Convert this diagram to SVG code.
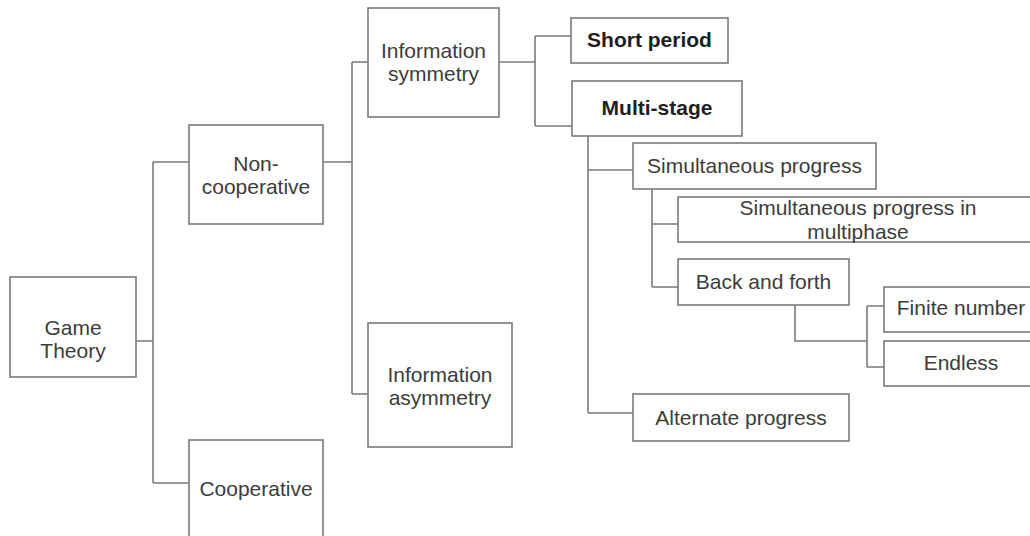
<svg xmlns="http://www.w3.org/2000/svg" width="1030" height="536" viewBox="0 0 1030 536">
  <style>
    .box { fill: #ffffff; stroke: #7a7a7a; stroke-width: 1.6; }
    .wire { fill: none; stroke: #7a7a7a; stroke-width: 1.6; }
    .lbl { font-family: "Liberation Sans", Arial, sans-serif; font-size: 21px; fill: #3c3c3c; text-anchor: middle; }
    .bold { font-weight: bold; fill: #1e1e1e; }
  </style>
  <rect width="1030" height="536" fill="#ffffff"/>

  <!-- tree connectors -->
  <g id="connectors">
    <path class="wire" d="M136,341 H153 M153,162 V483 M153,162 H189 M153,483 H189"/>
    <path class="wire" d="M323,162 H352 M352,62 V394 M352,62 H368 M352,394 H368"/>
    <path class="wire" d="M499,62 H535 M535,36 V126 M535,36 H571 M535,126 H572"/>
    <path class="wire" d="M588,136 V413 M588,170 H633 M588,413 H633"/>
    <path class="wire" d="M652,189 V287 M652,224 H678 M652,287 H678"/>
    <path class="wire" d="M795,305 V341 H867 M867,306 V367 M867,306 H884 M867,367 H884"/>
  </g>

  <g id="game-theory">
    <rect class="box" x="10" y="277" width="126" height="100"/>
    <text class="lbl" x="73" y="335">Game</text>
    <text class="lbl" x="73" y="358">Theory</text>
  </g>

  <g id="non-cooperative">
    <rect class="box" x="189" y="125" width="134" height="99"/>
    <text class="lbl" x="256" y="171">Non-</text>
    <text class="lbl" x="256" y="194">cooperative</text>
  </g>

  <g id="cooperative">
    <rect class="box" x="189" y="440" width="134" height="104"/>
    <text class="lbl" x="256" y="496">Cooperative</text>
  </g>

  <g id="information-symmetry">
    <rect class="box" x="368" y="8" width="131" height="109"/>
    <text class="lbl" x="433.5" y="58">Information</text>
    <text class="lbl" x="433.5" y="81">symmetry</text>
  </g>

  <g id="information-asymmetry">
    <rect class="box" x="368" y="323" width="144" height="124"/>
    <text class="lbl" x="440" y="382">Information</text>
    <text class="lbl" x="440" y="405">asymmetry</text>
  </g>

  <g id="short-period">
    <rect class="box" x="571" y="18" width="157" height="45"/>
    <text class="lbl bold" x="649.5" y="47">Short period</text>
  </g>

  <g id="multi-stage">
    <rect class="box" x="572" y="81" width="170" height="55"/>
    <text class="lbl bold" x="657" y="115">Multi-stage</text>
  </g>

  <g id="simultaneous-progress">
    <rect class="box" x="633" y="143" width="243" height="46"/>
    <text class="lbl" x="754.5" y="173">Simultaneous progress</text>
  </g>

  <g id="simultaneous-multiphase">
    <rect class="box" x="678" y="197" width="360" height="45"/>
    <text class="lbl" x="858" y="215">Simultaneous progress in</text>
    <text class="lbl" x="858" y="239">multiphase</text>
  </g>

  <g id="back-and-forth">
    <rect class="box" x="678" y="259" width="171" height="46"/>
    <text class="lbl" x="763.5" y="289">Back and forth</text>
  </g>

  <g id="finite-number">
    <rect class="box" x="884" y="287" width="154" height="45"/>
    <text class="lbl" x="961" y="315">Finite number</text>
  </g>

  <g id="endless">
    <rect class="box" x="884" y="341" width="154" height="45"/>
    <text class="lbl" x="961" y="370">Endless</text>
  </g>

  <g id="alternate-progress">
    <rect class="box" x="633" y="394" width="216" height="47"/>
    <text class="lbl" x="741" y="425">Alternate progress</text>
  </g>
</svg>
